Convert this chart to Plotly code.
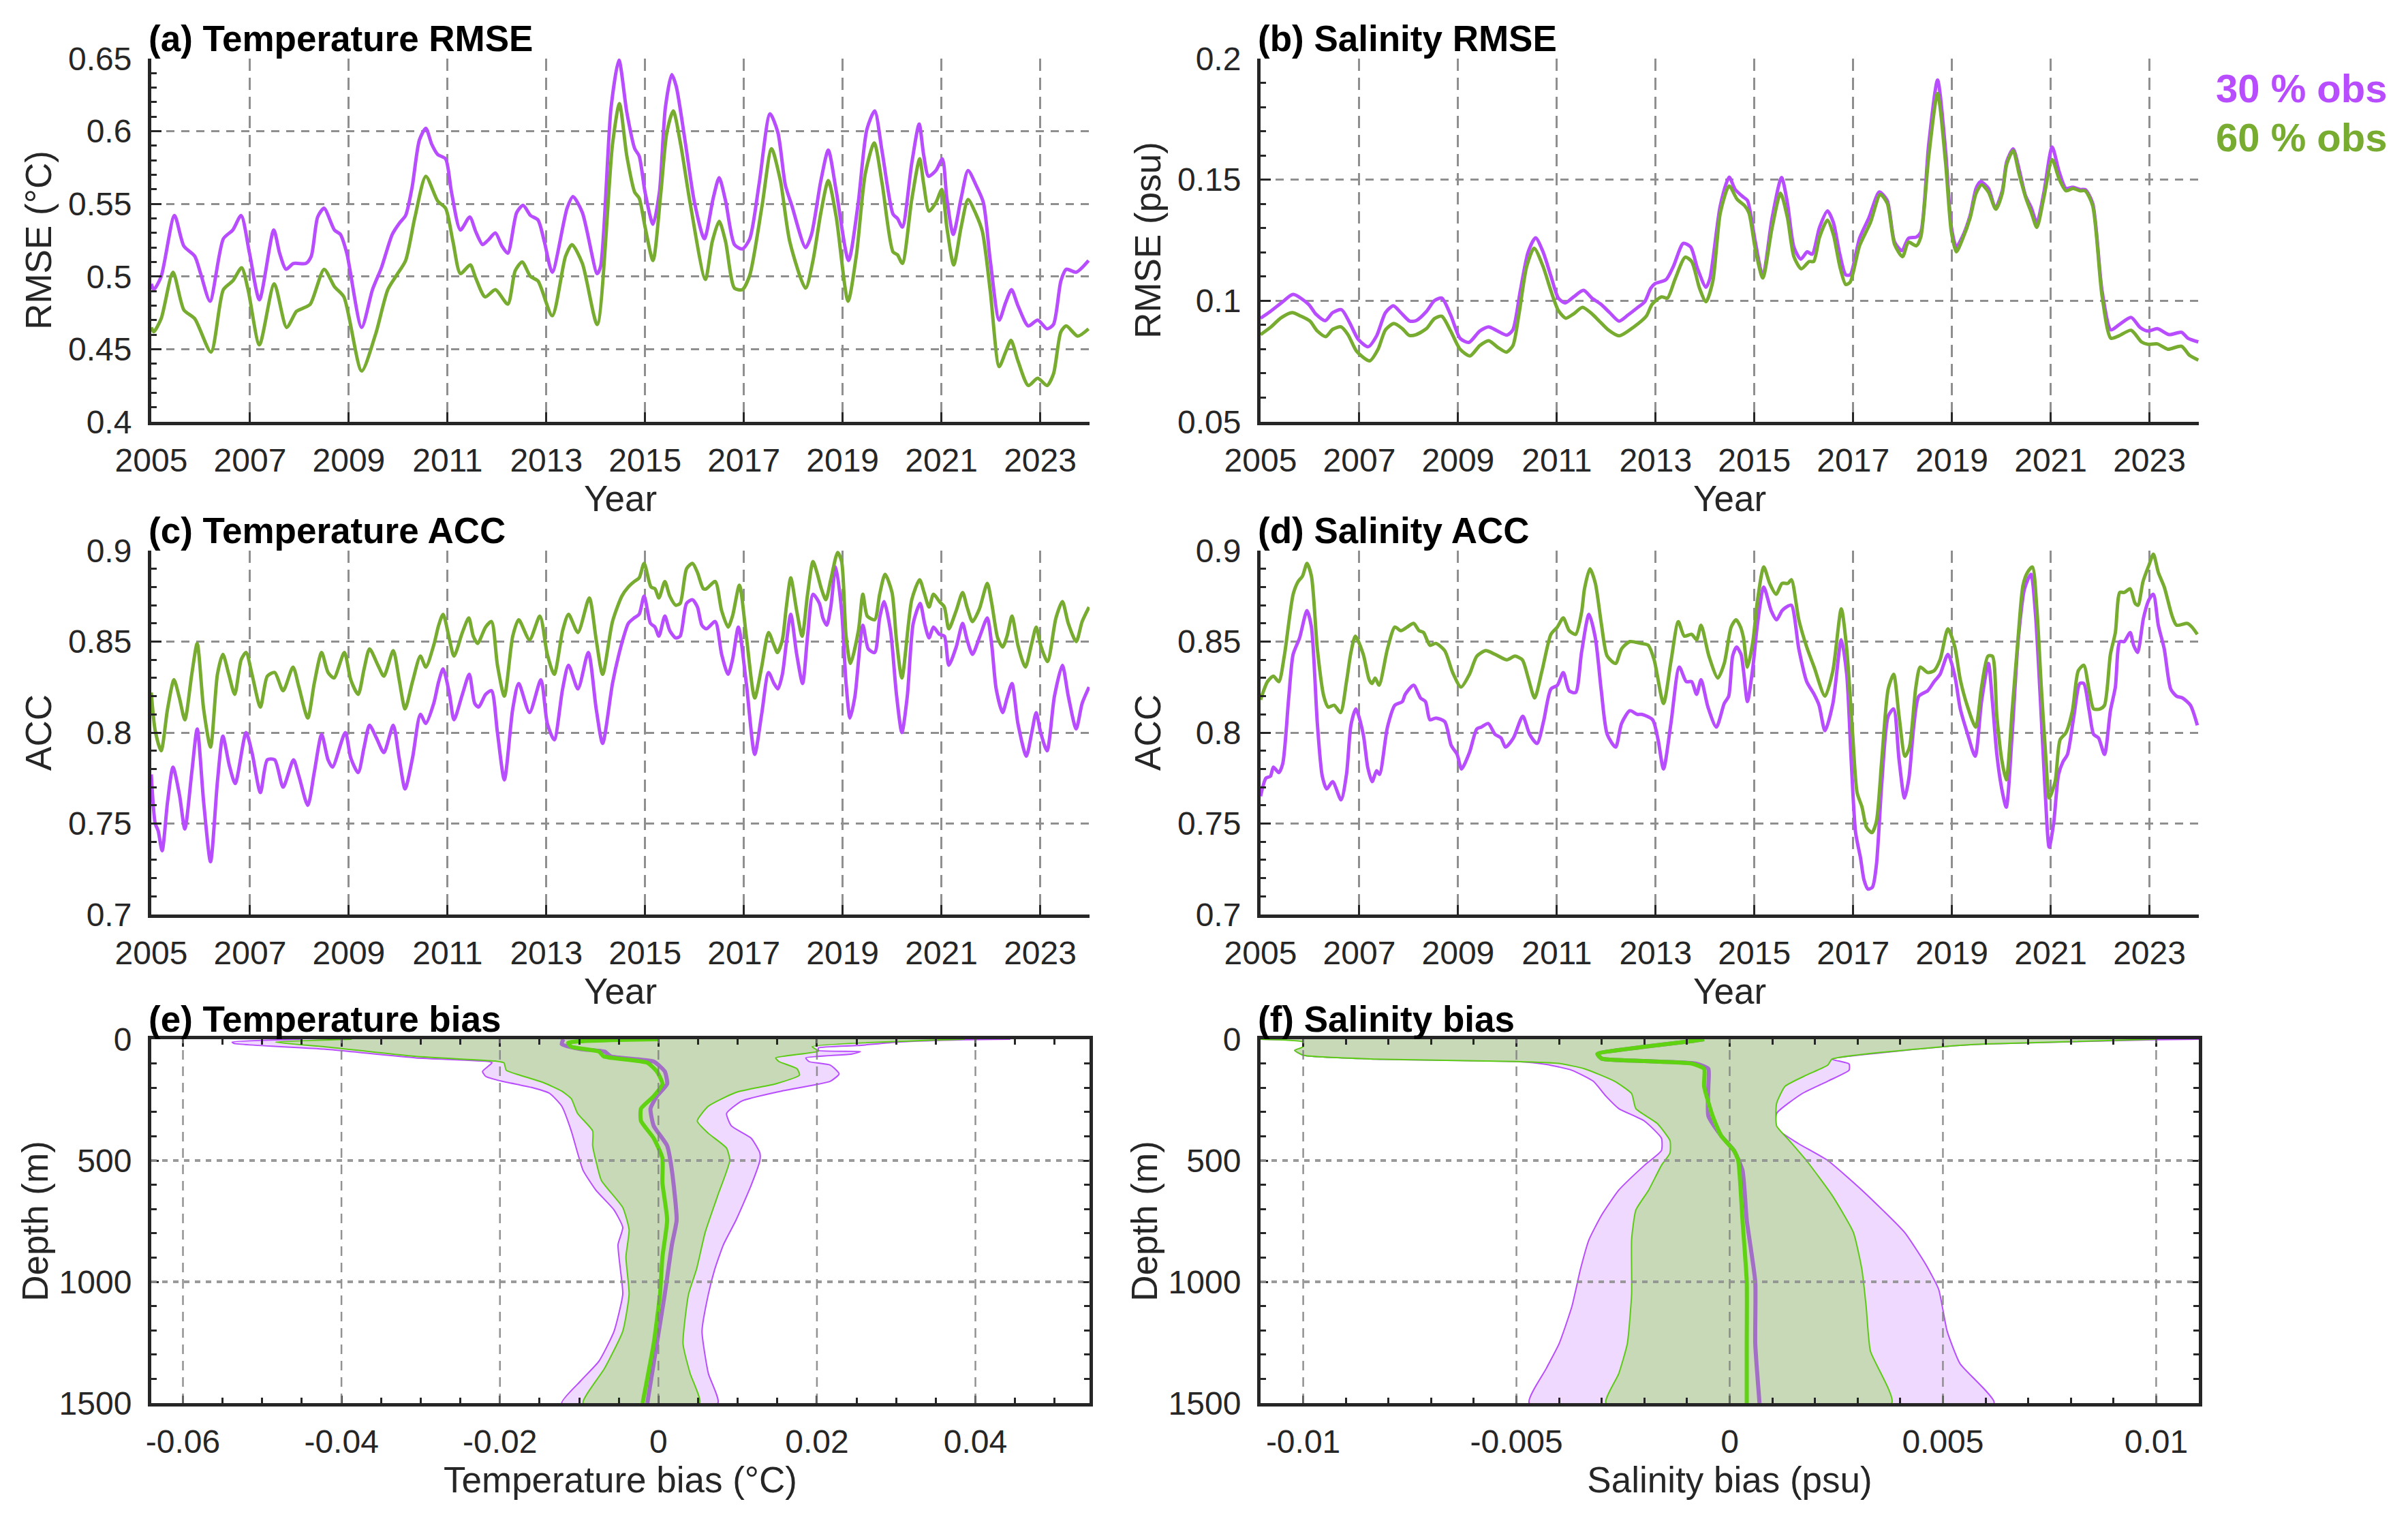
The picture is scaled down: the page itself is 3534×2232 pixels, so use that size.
import plotly.graph_objects as go

# ---- data ----
years = [2005, 2007, 2009, 2011, 2013, 2015, 2017, 2019, 2021, 2023]

# (a) temperature RMSE (degC): (decimal year, value)
trmse_30 = [(2005.0,0.495),(2005.05,0.491),(2005.2,0.5),(2005.47,0.542),(2005.66,0.521),(2005.88,0.514),(2006.0,0.502),(2006.19,0.483),(2006.46,0.526),(2006.65,0.532),(2006.82,0.542),(2006.99,0.516),(2007.19,0.484),(2007.48,0.532),(2007.6,0.516),(2007.73,0.505),(2007.88,0.509),(2008.13,0.509),(2008.24,0.514),(2008.37,0.541),(2008.5,0.547),(2008.71,0.532),(2008.83,0.529),(2008.96,0.516),(2009.26,0.465),(2009.48,0.491),(2009.66,0.506),(2009.88,0.529),(2010.03,0.537),(2010.15,0.542),(2010.28,0.561),(2010.43,0.594),(2010.56,0.602),(2010.68,0.591),(2010.8,0.584),(2010.96,0.581),(2011.08,0.558),(2011.26,0.532),(2011.45,0.541),(2011.57,0.531),(2011.71,0.522),(2011.82,0.525),(2011.97,0.53),(2012.1,0.521),(2012.22,0.516),(2012.4,0.544),(2012.53,0.549),(2012.68,0.542),(2012.83,0.539),(2012.96,0.524),(2013.12,0.503),(2013.42,0.547),(2013.54,0.555),(2013.73,0.544),(2014.03,0.502),(2014.1,0.507),(2014.31,0.616),(2014.47,0.649),(2014.63,0.613),(2014.79,0.588),(2014.88,0.583),(2015.0,0.558),(2015.16,0.536),(2015.29,0.558),(2015.41,0.616),(2015.54,0.639),(2015.63,0.631),(2015.82,0.591),(2016.0,0.551),(2016.2,0.526),(2016.38,0.554),(2016.5,0.568),(2016.63,0.552),(2016.81,0.522),(2016.97,0.519),(2017.12,0.526),(2017.31,0.564),(2017.53,0.612),(2017.69,0.599),(2017.84,0.563),(2017.97,0.549),(2018.25,0.52),(2018.37,0.529),(2018.56,0.566),(2018.71,0.587),(2018.87,0.559),(2019.12,0.511),(2019.31,0.549),(2019.49,0.601),(2019.65,0.614),(2019.8,0.586),(2020.02,0.543),(2020.11,0.54),(2020.21,0.534),(2020.4,0.578),(2020.55,0.605),(2020.64,0.584),(2020.74,0.569),(2020.89,0.573),(2021.02,0.581),(2021.11,0.554),(2021.24,0.529),(2021.4,0.554),(2021.54,0.573),(2021.7,0.563),(2021.85,0.551),(2021.99,0.511),(2022.17,0.47),(2022.3,0.482),(2022.42,0.491),(2022.55,0.48),(2022.76,0.466),(2022.95,0.47),(2023.14,0.464),(2023.27,0.467),(2023.42,0.497),(2023.53,0.505),(2023.73,0.503),(2023.98,0.511)]
trmse_60 = [(2005.0,0.465),(2005.05,0.462),(2005.2,0.471),(2005.44,0.503),(2005.66,0.477),(2005.88,0.471),(2006.21,0.448),(2006.46,0.491),(2006.65,0.497),(2006.83,0.506),(2006.96,0.491),(2007.19,0.453),(2007.49,0.495),(2007.74,0.465),(2007.94,0.476),(2008.06,0.478),(2008.22,0.481),(2008.5,0.505),(2008.71,0.493),(2008.9,0.486),(2009.26,0.435),(2009.54,0.46),(2009.79,0.491),(2009.97,0.501),(2010.15,0.511),(2010.34,0.541),(2010.56,0.569),(2010.8,0.552),(2010.96,0.547),(2011.11,0.524),(2011.26,0.502),(2011.46,0.508),(2011.57,0.499),(2011.76,0.486),(2011.97,0.491),(2012.22,0.481),(2012.37,0.504),(2012.51,0.51),(2012.68,0.5),(2012.83,0.497),(2013.12,0.473),(2013.39,0.514),(2013.52,0.522),(2013.73,0.509),(2014.03,0.467),(2014.34,0.591),(2014.48,0.619),(2014.63,0.583),(2014.79,0.558),(2014.88,0.554),(2015.0,0.534),(2015.16,0.511),(2015.32,0.558),(2015.44,0.599),(2015.57,0.614),(2015.72,0.591),(2015.91,0.551),(2016.22,0.498),(2016.36,0.524),(2016.5,0.538),(2016.63,0.524),(2016.81,0.492),(2016.97,0.491),(2017.12,0.501),(2017.37,0.549),(2017.56,0.588),(2017.74,0.566),(2017.93,0.524),(2018.25,0.492),(2018.4,0.511),(2018.56,0.544),(2018.71,0.566),(2018.87,0.541),(2019.11,0.483),(2019.28,0.515),(2019.46,0.571),(2019.64,0.592),(2019.8,0.564),(2020.02,0.517),(2020.11,0.515),(2020.21,0.509),(2020.4,0.553),(2020.56,0.581),(2020.64,0.564),(2020.75,0.545),(2020.89,0.551),(2021.01,0.56),(2021.11,0.534),(2021.25,0.508),(2021.4,0.534),(2021.54,0.553),(2021.7,0.543),(2021.83,0.531),(2021.99,0.49),(2022.17,0.438),(2022.3,0.448),(2022.41,0.456),(2022.55,0.442),(2022.76,0.425),(2022.95,0.43),(2023.14,0.425),(2023.27,0.433),(2023.42,0.462),(2023.53,0.466),(2023.76,0.459),(2023.98,0.464)]

# (b) salinity RMSE (psu)
srmse_30 = [(2005.0,0.0928),(2005.2,0.0956),(2005.45,0.0996),(2005.66,0.1026),(2005.97,0.0986),(2006.12,0.0945),(2006.31,0.0918),(2006.46,0.0951),(2006.64,0.0963),(2006.8,0.0911),(2006.98,0.084),(2007.18,0.081),(2007.35,0.0855),(2007.53,0.0951),(2007.69,0.0979),(2007.84,0.0951),(2008.02,0.0916),(2008.15,0.0918),(2008.36,0.0956),(2008.52,0.1),(2008.67,0.1011),(2008.85,0.0941),(2009.04,0.0845),(2009.22,0.0828),(2009.44,0.0875),(2009.62,0.0892),(2009.8,0.0875),(2009.99,0.0858),(2010.11,0.088),(2010.26,0.1041),(2010.42,0.1202),(2010.57,0.126),(2010.72,0.1202),(2010.88,0.1102),(2011.03,0.1011),(2011.17,0.0991),(2011.34,0.1016),(2011.54,0.1043),(2011.71,0.1011),(2011.89,0.0986),(2012.07,0.0951),(2012.26,0.0916),(2012.44,0.0941),(2012.63,0.0971),(2012.78,0.0996),(2012.9,0.1051),(2012.99,0.1071),(2013.21,0.1087),(2013.36,0.1142),(2013.56,0.1237),(2013.71,0.1222),(2013.85,0.1132),(2014.02,0.1056),(2014.1,0.1092),(2014.31,0.1393),(2014.49,0.151),(2014.61,0.146),(2014.77,0.1429),(2014.86,0.1414),(2015.02,0.1242),(2015.17,0.1102),(2015.36,0.1343),(2015.55,0.1509),(2015.67,0.1403),(2015.8,0.1222),(2015.94,0.1172),(2016.07,0.1202),(2016.17,0.1192),(2016.32,0.1303),(2016.48,0.1371),(2016.6,0.1323),(2016.73,0.1192),(2016.85,0.1107),(2016.94,0.1107),(2017.13,0.1258),(2017.32,0.1343),(2017.53,0.1449),(2017.69,0.1414),(2017.84,0.1242),(2017.99,0.1207),(2018.12,0.1258),(2018.28,0.1263),(2018.37,0.1283),(2018.53,0.1645),(2018.71,0.1911),(2018.87,0.1625),(2018.99,0.1303),(2019.09,0.1222),(2019.21,0.1263),(2019.37,0.1353),(2019.49,0.1464),(2019.58,0.1492),(2019.74,0.1464),(2019.88,0.1383),(2020.02,0.1454),(2020.11,0.1574),(2020.24,0.1627),(2020.36,0.1544),(2020.49,0.1434),(2020.61,0.1383),(2020.72,0.1323),(2020.86,0.1444),(2021.03,0.1635),(2021.17,0.1534),(2021.31,0.1464),(2021.45,0.1469),(2021.6,0.1459),(2021.7,0.1459),(2021.85,0.1403),(2022.04,0.1041),(2022.22,0.088),(2022.38,0.09),(2022.63,0.0931),(2022.81,0.089),(2022.97,0.0875),(2023.16,0.0885),(2023.4,0.086),(2023.65,0.087),(2023.78,0.0845),(2023.99,0.083)]
srmse_60 = [(2005.0,0.086),(2005.2,0.089),(2005.42,0.093),(2005.64,0.0951),(2005.82,0.0936),(2006.0,0.0916),(2006.15,0.0875),(2006.32,0.0852),(2006.46,0.0882),(2006.63,0.0892),(2006.77,0.086),(2006.95,0.079),(2007.21,0.0752),(2007.38,0.08),(2007.53,0.088),(2007.7,0.0906),(2007.87,0.0885),(2008.01,0.0857),(2008.15,0.086),(2008.36,0.0885),(2008.52,0.0926),(2008.67,0.0936),(2008.85,0.0875),(2009.04,0.08),(2009.24,0.0772),(2009.44,0.0815),(2009.62,0.0835),(2009.8,0.0808),(2009.98,0.0788),(2010.11,0.0815),(2010.23,0.0941),(2010.39,0.1142),(2010.54,0.1217),(2010.72,0.1142),(2010.88,0.1041),(2011.03,0.096),(2011.18,0.0928),(2011.34,0.0946),(2011.52,0.0973),(2011.71,0.0946),(2011.86,0.0916),(2012.04,0.088),(2012.26,0.0855),(2012.56,0.0892),(2012.81,0.0936),(2012.93,0.0986),(2013.12,0.1016),(2013.24,0.1011),(2013.39,0.1087),(2013.6,0.118),(2013.73,0.1162),(2013.89,0.1051),(2014.02,0.0996),(2014.16,0.1082),(2014.31,0.1363),(2014.49,0.1474),(2014.65,0.1419),(2014.8,0.1393),(2014.89,0.1363),(2015.02,0.1212),(2015.17,0.1094),(2015.36,0.1303),(2015.53,0.1444),(2015.67,0.1343),(2015.8,0.1182),(2015.95,0.1132),(2016.11,0.1162),(2016.2,0.1162),(2016.32,0.1263),(2016.48,0.1333),(2016.6,0.1273),(2016.73,0.1142),(2016.85,0.1067),(2016.94,0.1077),(2017.13,0.1227),(2017.35,0.1323),(2017.55,0.1439),(2017.69,0.1403),(2017.84,0.1232),(2018.0,0.1182),(2018.12,0.1242),(2018.28,0.1227),(2018.37,0.1263),(2018.53,0.1595),(2018.71,0.1856),(2018.87,0.1574),(2018.99,0.1283),(2019.09,0.1202),(2019.21,0.1252),(2019.37,0.1343),(2019.49,0.1444),(2019.6,0.1479),(2019.74,0.1449),(2019.89,0.1378),(2020.02,0.1444),(2020.11,0.1564),(2020.24,0.162),(2020.36,0.1524),(2020.49,0.1429),(2020.61,0.1363),(2020.72,0.1303),(2020.86,0.1424),(2021.03,0.1583),(2021.17,0.1504),(2021.31,0.1454),(2021.45,0.1464),(2021.6,0.1454),(2021.7,0.1454),(2021.85,0.1393),(2022.04,0.1021),(2022.22,0.0845),(2022.38,0.0855),(2022.63,0.0878),(2022.84,0.083),(2022.97,0.082),(2023.16,0.0822),(2023.37,0.08),(2023.65,0.0812),(2023.81,0.0775),(2023.99,0.0755)]

# (c) temperature ACC
tacc_30 = [(2005.0,0.777),(2005.08,0.75),(2005.14,0.746),(2005.22,0.735),(2005.33,0.762),(2005.44,0.781),(2005.57,0.766),(2005.68,0.747),(2005.82,0.778),(2005.93,0.802),(2006.06,0.762),(2006.2,0.729),(2006.34,0.773),(2006.45,0.798),(2006.58,0.782),(2006.7,0.772),(2006.92,0.8),(2007.04,0.789),(2007.21,0.767),(2007.35,0.785),(2007.5,0.785),(2007.67,0.77),(2007.88,0.785),(2007.99,0.776),(2008.17,0.76),(2008.3,0.778),(2008.45,0.799),(2008.58,0.785),(2008.67,0.781),(2008.93,0.8),(2009.04,0.786),(2009.19,0.778),(2009.31,0.792),(2009.42,0.804),(2009.56,0.797),(2009.71,0.789),(2009.9,0.804),(2010.02,0.786),(2010.14,0.769),(2010.29,0.786),(2010.45,0.81),(2010.56,0.805),(2010.72,0.816),(2010.82,0.828),(2010.91,0.835),(2011.04,0.821),(2011.13,0.807),(2011.3,0.821),(2011.44,0.832),(2011.55,0.816),(2011.63,0.814),(2011.77,0.821),(2011.89,0.823),(2012.01,0.8),(2012.15,0.774),(2012.32,0.813),(2012.44,0.827),(2012.66,0.811),(2012.89,0.829),(2013.02,0.805),(2013.16,0.796),(2013.33,0.824),(2013.45,0.837),(2013.64,0.824),(2013.85,0.844),(2014.01,0.813),(2014.14,0.794),(2014.34,0.827),(2014.47,0.843),(2014.57,0.853),(2014.66,0.86),(2014.78,0.863),(2014.88,0.865),(2014.98,0.875),(2015.11,0.86),(2015.2,0.858),(2015.28,0.853),(2015.4,0.864),(2015.5,0.856),(2015.62,0.852),(2015.71,0.853),(2015.84,0.871),(2015.96,0.873),(2016.06,0.869),(2016.15,0.859),(2016.24,0.857),(2016.42,0.861),(2016.55,0.843),(2016.68,0.832),(2016.77,0.84),(2016.89,0.858),(2017.05,0.827),(2017.22,0.788),(2017.36,0.81),(2017.5,0.833),(2017.61,0.827),(2017.69,0.824),(2017.78,0.832),(2017.86,0.849),(2017.95,0.865),(2018.07,0.843),(2018.19,0.827),(2018.29,0.853),(2018.4,0.876),(2018.53,0.871),(2018.6,0.863),(2018.68,0.859),(2018.76,0.869),(2018.86,0.891),(2018.98,0.867),(2019.07,0.827),(2019.15,0.808),(2019.25,0.82),(2019.41,0.859),(2019.52,0.846),(2019.65,0.844),(2019.75,0.863),(2019.84,0.872),(2019.97,0.856),(2020.09,0.821),(2020.2,0.8),(2020.31,0.82),(2020.43,0.86),(2020.57,0.871),(2020.66,0.86),(2020.75,0.852),(2020.84,0.858),(2020.96,0.854),(2021.06,0.853),(2021.15,0.837),(2021.3,0.847),(2021.43,0.86),(2021.52,0.851),(2021.63,0.843),(2021.78,0.853),(2021.93,0.863),(2022.02,0.848),(2022.11,0.824),(2022.24,0.811),(2022.33,0.819),(2022.43,0.827),(2022.55,0.805),(2022.72,0.787),(2022.83,0.8),(2022.92,0.811),(2023.01,0.8),(2023.14,0.79),(2023.29,0.82),(2023.45,0.837),(2023.57,0.82),(2023.73,0.802),(2023.85,0.816),(2023.99,0.825)]
tacc_60 = [(2005.0,0.822),(2005.08,0.801),(2005.2,0.79),(2005.33,0.813),(2005.46,0.829),(2005.57,0.819),(2005.68,0.807),(2005.82,0.832),(2005.93,0.849),(2006.06,0.813),(2006.2,0.792),(2006.34,0.832),(2006.45,0.843),(2006.57,0.832),(2006.69,0.821),(2006.82,0.84),(2006.92,0.844),(2007.04,0.832),(2007.21,0.814),(2007.35,0.831),(2007.5,0.833),(2007.67,0.823),(2007.87,0.836),(2007.99,0.825),(2008.17,0.808),(2008.3,0.827),(2008.45,0.844),(2008.58,0.833),(2008.7,0.83),(2008.91,0.844),(2009.04,0.829),(2009.19,0.821),(2009.31,0.835),(2009.42,0.846),(2009.59,0.837),(2009.71,0.831),(2009.9,0.845),(2010.02,0.829),(2010.14,0.813),(2010.29,0.828),(2010.45,0.842),(2010.56,0.836),(2010.72,0.848),(2010.82,0.859),(2010.91,0.865),(2011.04,0.851),(2011.13,0.842),(2011.3,0.855),(2011.43,0.863),(2011.52,0.853),(2011.61,0.849),(2011.77,0.858),(2011.89,0.861),(2012.01,0.837),(2012.15,0.82),(2012.32,0.853),(2012.44,0.862),(2012.66,0.851),(2012.87,0.864),(2013.02,0.843),(2013.16,0.832),(2013.33,0.856),(2013.45,0.865),(2013.64,0.855),(2013.87,0.874),(2014.01,0.851),(2014.14,0.832),(2014.34,0.861),(2014.53,0.875),(2014.66,0.88),(2014.78,0.883),(2014.88,0.885),(2014.98,0.893),(2015.12,0.88),(2015.2,0.879),(2015.28,0.874),(2015.4,0.883),(2015.5,0.875),(2015.62,0.87),(2015.71,0.871),(2015.84,0.89),(2015.96,0.893),(2016.06,0.888),(2016.18,0.879),(2016.24,0.879),(2016.42,0.883),(2016.55,0.867),(2016.68,0.858),(2016.77,0.864),(2016.91,0.881),(2017.05,0.853),(2017.22,0.819),(2017.36,0.836),(2017.5,0.855),(2017.61,0.848),(2017.68,0.844),(2017.78,0.851),(2017.86,0.869),(2017.95,0.885),(2018.07,0.867),(2018.18,0.853),(2018.29,0.876),(2018.4,0.894),(2018.48,0.888),(2018.57,0.879),(2018.66,0.873),(2018.76,0.884),(2018.9,0.899),(2018.98,0.894),(2019.07,0.853),(2019.16,0.838),(2019.32,0.856),(2019.41,0.876),(2019.5,0.864),(2019.65,0.862),(2019.75,0.876),(2019.86,0.887),(2020.0,0.877),(2020.09,0.851),(2020.2,0.83),(2020.4,0.873),(2020.56,0.884),(2020.65,0.877),(2020.75,0.869),(2020.84,0.876),(2020.96,0.872),(2021.06,0.869),(2021.15,0.857),(2021.3,0.867),(2021.43,0.877),(2021.52,0.869),(2021.63,0.861),(2021.77,0.868),(2021.93,0.882),(2022.02,0.871),(2022.14,0.852),(2022.24,0.847),(2022.33,0.853),(2022.43,0.864),(2022.55,0.848),(2022.7,0.836),(2022.83,0.849),(2022.92,0.858),(2023.01,0.848),(2023.15,0.839),(2023.32,0.863),(2023.45,0.872),(2023.57,0.86),(2023.73,0.85),(2023.85,0.861),(2023.99,0.869)]

# (d) salinity ACC
sacc_30 = [(2005.0,0.765),(2005.11,0.775),(2005.2,0.776),(2005.26,0.781),(2005.37,0.778),(2005.45,0.783),(2005.57,0.819),(2005.66,0.843),(2005.79,0.852),(2005.94,0.867),(2006.03,0.858),(2006.15,0.805),(2006.25,0.776),(2006.34,0.769),(2006.46,0.773),(2006.63,0.763),(2006.74,0.777),(2006.83,0.804),(2006.93,0.813),(2007.08,0.799),(2007.17,0.781),(2007.26,0.773),(2007.35,0.779),(2007.41,0.777),(2007.57,0.803),(2007.72,0.815),(2007.87,0.817),(2007.93,0.821),(2008.1,0.826),(2008.24,0.819),(2008.34,0.817),(2008.43,0.807),(2008.55,0.808),(2008.73,0.806),(2008.86,0.793),(2008.98,0.788),(2009.07,0.78),(2009.23,0.789),(2009.38,0.802),(2009.47,0.803),(2009.61,0.805),(2009.75,0.799),(2009.87,0.797),(2009.96,0.792),(2010.12,0.797),(2010.31,0.809),(2010.45,0.799),(2010.6,0.794),(2010.73,0.806),(2010.88,0.824),(2011.01,0.826),(2011.13,0.833),(2011.25,0.823),(2011.38,0.822),(2011.5,0.844),(2011.65,0.865),(2011.78,0.852),(2011.9,0.823),(2012.02,0.799),(2012.19,0.792),(2012.31,0.805),(2012.48,0.812),(2012.63,0.81),(2012.72,0.81),(2012.94,0.807),(2013.05,0.796),(2013.16,0.78),(2013.31,0.805),(2013.48,0.836),(2013.62,0.828),(2013.73,0.828),(2013.83,0.821),(2013.92,0.829),(2014.06,0.814),(2014.23,0.803),(2014.39,0.816),(2014.48,0.82),(2014.56,0.842),(2014.64,0.847),(2014.73,0.843),(2014.78,0.834),(2014.86,0.817),(2014.97,0.836),(2015.06,0.859),(2015.19,0.88),(2015.34,0.867),(2015.45,0.862),(2015.56,0.867),(2015.65,0.869),(2015.75,0.87),(2015.9,0.846),(2016.06,0.828),(2016.21,0.821),(2016.31,0.815),(2016.43,0.801),(2016.59,0.816),(2016.76,0.851),(2016.87,0.832),(2016.96,0.785),(2017.05,0.745),(2017.15,0.731),(2017.22,0.719),(2017.3,0.714),(2017.39,0.715),(2017.47,0.727),(2017.58,0.772),(2017.71,0.809),(2017.82,0.813),(2017.93,0.785),(2018.04,0.764),(2018.13,0.775),(2018.23,0.804),(2018.33,0.82),(2018.51,0.823),(2018.64,0.828),(2018.76,0.832),(2018.92,0.843),(2019.06,0.831),(2019.17,0.813),(2019.32,0.799),(2019.47,0.787),(2019.6,0.817),(2019.74,0.838),(2019.82,0.817),(2019.91,0.788),(2020.01,0.769),(2020.1,0.759),(2020.22,0.799),(2020.34,0.85),(2020.47,0.879),(2020.6,0.887),(2020.69,0.866),(2020.79,0.819),(2020.88,0.772),(2020.97,0.737),(2021.06,0.75),(2021.16,0.777),(2021.25,0.784),(2021.34,0.788),(2021.47,0.809),(2021.59,0.827),(2021.67,0.827),(2021.78,0.812),(2021.87,0.799),(2021.97,0.797),(2022.09,0.788),(2022.21,0.812),(2022.31,0.825),(2022.4,0.85),(2022.49,0.85),(2022.61,0.855),(2022.68,0.848),(2022.76,0.844),(2022.88,0.863),(2022.99,0.873),(2023.08,0.876),(2023.18,0.859),(2023.3,0.846),(2023.43,0.824),(2023.55,0.82),(2023.67,0.819),(2023.83,0.815),(2023.97,0.804)]
sacc_60 = [(2005.0,0.818),(2005.14,0.828),(2005.26,0.831),(2005.37,0.828),(2005.48,0.842),(2005.66,0.876),(2005.76,0.883),(2005.85,0.886),(2005.94,0.893),(2006.03,0.886),(2006.15,0.846),(2006.28,0.82),(2006.37,0.814),(2006.49,0.815),(2006.62,0.811),(2006.74,0.828),(2006.83,0.844),(2006.92,0.853),(2007.08,0.843),(2007.2,0.829),(2007.26,0.827),(2007.32,0.83),(2007.4,0.826),(2007.57,0.846),(2007.72,0.858),(2007.84,0.856),(2007.97,0.858),(2008.1,0.86),(2008.21,0.856),(2008.3,0.855),(2008.43,0.848),(2008.55,0.849),(2008.73,0.845),(2008.89,0.833),(2009.06,0.825),(2009.23,0.832),(2009.38,0.842),(2009.56,0.845),(2009.75,0.843),(2009.99,0.84),(2010.15,0.842),(2010.3,0.84),(2010.42,0.83),(2010.55,0.819),(2010.7,0.834),(2010.88,0.854),(2011.01,0.858),(2011.13,0.863),(2011.25,0.856),(2011.38,0.854),(2011.5,0.866),(2011.56,0.879),(2011.67,0.89),(2011.78,0.882),(2011.9,0.86),(2012.02,0.842),(2012.19,0.838),(2012.31,0.846),(2012.48,0.85),(2012.7,0.849),(2012.85,0.848),(2012.97,0.84),(2013.16,0.816),(2013.31,0.839),(2013.46,0.861),(2013.58,0.853),(2013.73,0.854),(2013.83,0.851),(2013.92,0.859),(2014.08,0.842),(2014.26,0.83),(2014.39,0.838),(2014.53,0.858),(2014.63,0.862),(2014.72,0.858),(2014.78,0.852),(2014.86,0.836),(2014.97,0.85),(2015.06,0.872),(2015.19,0.891),(2015.31,0.882),(2015.44,0.876),(2015.56,0.882),(2015.68,0.882),(2015.75,0.884),(2015.9,0.862),(2016.06,0.847),(2016.21,0.836),(2016.43,0.82),(2016.59,0.834),(2016.76,0.868),(2016.87,0.846),(2016.99,0.799),(2017.08,0.767),(2017.18,0.759),(2017.27,0.748),(2017.38,0.745),(2017.47,0.751),(2017.58,0.785),(2017.71,0.824),(2017.82,0.832),(2017.93,0.809),(2018.05,0.787),(2018.14,0.792),(2018.27,0.825),(2018.36,0.836),(2018.51,0.833),(2018.64,0.834),(2018.76,0.84),(2018.92,0.857),(2019.06,0.847),(2019.17,0.829),(2019.32,0.814),(2019.48,0.803),(2019.6,0.825),(2019.73,0.842),(2019.82,0.842),(2019.91,0.809),(2020.01,0.785),(2020.1,0.774),(2020.22,0.812),(2020.34,0.852),(2020.44,0.881),(2020.53,0.888),(2020.63,0.891),(2020.72,0.868),(2020.81,0.825),(2020.91,0.783),(2020.97,0.764),(2021.09,0.773),(2021.19,0.796),(2021.31,0.8),(2021.44,0.812),(2021.56,0.834),(2021.67,0.837),(2021.78,0.823),(2021.87,0.813),(2022.0,0.813),(2022.09,0.815),(2022.21,0.843),(2022.31,0.855),(2022.4,0.877),(2022.49,0.877),(2022.61,0.879),(2022.71,0.871),(2022.77,0.87),(2022.87,0.883),(2022.99,0.892),(2023.08,0.898),(2023.18,0.888),(2023.3,0.88),(2023.46,0.864),(2023.55,0.859),(2023.77,0.86),(2023.86,0.858),(2023.97,0.854)]

# (e) temperature bias profiles: (depth m, value degC)
tbias_30_lo = [(0,-0.0452),(12,-0.0538),(18,-0.0535),(41,-0.0422),(77,-0.0306),(92,-0.0214),(97,-0.021),(133,-0.0222),(153,-0.0218),(173,-0.0198),(199,-0.016),(224,-0.0137),(276,-0.0122),(378,-0.011),(469,-0.0102),(541,-0.0095),(622,-0.0079),(704,-0.0056),(776,-0.0045),(847,-0.0051),(949,-0.0048),(1051,-0.0045),(1204,-0.0056),(1327,-0.0075),(1408,-0.0098),(1500,-0.0122)]
tbias_30_hi = [(0,0.0444),(2,0.0386),(12,0.0302),(26,0.0252),(36,0.0202),(46,0.0202),(51,0.0255),(61,0.0244),(77,0.0186),(92,0.019),(107,0.0217),(143,0.0228),(173,0.0217),(214,0.0155),(255,0.0105),(306,0.0086),(357,0.0092),(408,0.0117),(469,0.0128),(500,0.0128),(602,0.0117),(745,0.0098),(847,0.0082),(949,0.0071),(1051,0.0063),(1204,0.0055),(1378,0.0063),(1500,0.0075)]
tbias_60_lo = [(0,-0.0387),(12,-0.0483),(31,-0.0422),(71,-0.0306),(90,-0.0206),(97,-0.0195),(128,-0.0192),(148,-0.0175),(179,-0.0145),(214,-0.0122),(245,-0.011),(306,-0.0102),(378,-0.0083),(439,-0.0083),(500,-0.0079),(582,-0.0072),(694,-0.0045),(786,-0.0037),(898,-0.0041),(1051,-0.0037),(1204,-0.0045),(1357,-0.0068),(1500,-0.0095)]
tbias_60_hi = [(0,0.0386),(31,0.0194),(49,0.0202),(77,0.0148),(92,0.0152),(122,0.0175),(148,0.0178),(184,0.0148),(219,0.0098),(276,0.0063),(337,0.0049),(388,0.0063),(449,0.0086),(500,0.009),(643,0.0075),(796,0.0059),(949,0.0048),(1051,0.0038),(1255,0.0031),(1378,0.004),(1500,0.0052)]
tbias_30_mean = [(0,-0.012),(20,-0.0122),(41,-0.0098),(51,-0.0068),(71,-0.006),(92,-0.0006),(133,0.0008),(184,0.0011),(235,-0.0002),(286,-0.001),(357,-0.0006),(439,0.0011),(541,0.0017),(745,0.0023),(847,0.0017),(1051,0.0008),(1255,-0.0002),(1500,-0.0014)]
tbias_60_mean = [(0,0.0),(15,-0.0114),(31,-0.011),(51,-0.0075),(71,-0.0069),(97,-0.0014),(133,-0.0002),(184,0.0005),(235,-0.0006),(286,-0.0022),(337,-0.0022),(408,-0.0006),(490,0.0005),(592,0.0005),(745,0.0011),(898,0.0005),(1051,0.0002),(1255,-0.0006),(1500,-0.002)]

# (f) salinity bias profiles: (depth m, value psu)
sbias_30_lo = [(0,-0.011),(12,-0.0096),(31,-0.0099),(46,-0.0102),(66,-0.01),(82,-0.0083),(92,-0.005),(104,-0.0043),(128,-0.0037),(173,-0.0032),(235,-0.0029),(286,-0.0026),(337,-0.002),(408,-0.0016),(459,-0.0016),(520,-0.002),(622,-0.0026),(724,-0.003),(827,-0.0033),(949,-0.0035),(1102,-0.0037),(1255,-0.004),(1357,-0.0043),(1500,-0.0047)]
sbias_30_hi = [(0,0.011),(2,0.01),(20,0.006),(31,0.005),(82,0.0024),(102,0.0028),(128,0.0028),(173,0.0023),(224,0.0017),(306,0.0011),(367,0.0011),(429,0.0016),(500,0.0023),(622,0.0031),(796,0.0041),(929,0.0046),(1031,0.0049),(1204,0.0051),(1337,0.0054),(1500,0.0062)]
sbias_60_lo = [(0,-0.011),(12,-0.01),(31,-0.01),(46,-0.0102),(66,-0.01),(82,-0.0083),(92,-0.005),(100,-0.004),(122,-0.0034),(173,-0.0027),(224,-0.0023),(286,-0.0022),(347,-0.0017),(418,-0.0014),(469,-0.0014),(520,-0.0016),(622,-0.0019),(704,-0.0022),(827,-0.0023),(1051,-0.0023),(1255,-0.0024),(1378,-0.0026),(1500,-0.0029)]
sbias_60_hi = [(0,0.01),(20,0.006),(31,0.005),(82,0.0024),(107,0.0023),(148,0.0018),(194,0.0013),(265,0.0011),(357,0.0011),(418,0.0014),(500,0.0018),(643,0.0024),(796,0.0029),(949,0.0031),(1102,0.0032),(1286,0.0033),(1500,0.0038)]
sbias_30_mean = [(0,-0.0006),(8,-0.0009),(31,-0.002),(61,-0.0031),(80,-0.003),(90,-0.002),(100,-0.0008),(122,-0.0005),(194,-0.0005),(316,-0.0005),(398,-0.0002),(459,0.0001),(540,0.0003),(745,0.0004),(1000,0.0006),(1255,0.0006),(1500,0.0007)]
sbias_60_mean = [(0,-0.0006),(8,-0.0009),(31,-0.002),(61,-0.0031),(80,-0.003),(90,-0.002),(100,-0.0009),(122,-0.0006),(194,-0.0006),(316,-0.0004),(398,-0.0002),(459,0.0001),(500,0.0002),(745,0.0003),(1000,0.0004),(1255,0.0004),(1500,0.0004)]

tbias_ticks = [-0.06, -0.04, -0.02, 0, 0.02, 0.04]
tbias_text = ["-0.06", "-0.04", "-0.02", "0", "0.02", "0.04"]
sbias_ticks = [-0.01, -0.005, 0, 0.005, 0.01]
sbias_text = ["-0.01", "-0.005", "0", "0.005", "0.01"]
depth_ticks = [0, 500, 1000, 1500]

# ---- styling ----
PURPLE = "#B84DFF"
GREEN = "#77AC30"
AXC = "#262626"
GRID = "#8f8f8f"
FONT = "Liberation Sans, Arial, sans-serif"

W, H = 3534, 2232
OFF = 8  # the page body adds an 8 px margin
COLS = [(222 - OFF, 1599 - OFF), (1850 - OFF, 3227 - OFF)]
ROWS = [(86 - OFF, 619 - OFF), (808 - OFF, 1342 - OFF), (1525 - OFF, 2059 - OFF)]


def xdom(c):
    l, r = COLS[c]
    return [l / W, r / W]


def ydom(r):
    t, b = ROWS[r]
    return [1 - b / H, 1 - t / H]


fig = go.Figure()


def sfx(n):
    return "" if n == 1 else str(n)


def add_series(n, pts, color):
    xs, ys = zip(*pts)
    fig.add_trace(go.Scatter(x=xs, y=ys, xaxis="x" + sfx(n), yaxis="y" + sfx(n), mode="lines",
                             line=dict(color=color, width=5, shape="spline", smoothing=0.7),
                             showlegend=False, hoverinfo="skip"))


def add_band(n, lo, hi, fill, edge):
    ld, lv = zip(*lo)
    hd, hv = zip(*hi)
    fig.add_trace(go.Scatter(x=list(lv) + list(hv)[::-1], y=list(ld) + list(hd)[::-1],
                             xaxis="x" + sfx(n), yaxis="y" + sfx(n), mode="lines", fill="toself",
                             fillcolor=fill, line=dict(color=edge, width=2, shape="spline", smoothing=0.5),
                             showlegend=False, hoverinfo="skip"))


def add_profile(n, pts, color, width):
    d, v = zip(*pts)
    fig.add_trace(go.Scatter(x=v, y=d, xaxis="x" + sfx(n), yaxis="y" + sfx(n), mode="lines",
                             line=dict(color=color, width=width, shape="spline", smoothing=0.5),
                             showlegend=False, hoverinfo="skip"))


tick_font = dict(family=FONT, size=48, color=AXC)
title_font = dict(family=FONT, size=53, color=AXC)


def time_axes(n, col, row, yr, ytv, ytt, ytitle):
    k = sfx(n)
    fig.update_layout({
        "xaxis" + k: dict(domain=xdom(col), anchor="y" + k, range=[2005, 2024], automargin=False,
                          tickmode="array", tickvals=years, ticktext=[str(v) for v in years],
                          ticks="inside", ticklen=14, tickwidth=3, tickcolor=AXC,
                          showline=True, linecolor=AXC, linewidth=5, zeroline=False,
                          showgrid=True, gridcolor=GRID, gridwidth=3, griddash="18px,10px",
                          tickfont=tick_font, ticklabelstandoff=10,
                          title=dict(text="Year", font=title_font, standoff=6)),
        "yaxis" + k: dict(domain=ydom(row), anchor="x" + k, range=yr, automargin=False,
                          tickmode="array", tickvals=ytv, ticktext=ytt,
                          ticks="inside", ticklen=15, tickwidth=3, tickcolor=AXC,
                          minor=dict(tickmode="linear", tick0=0, dtick=0.01, ticks="inside",
                                     ticklen=8, tickwidth=3, tickcolor=AXC, showgrid=False),
                          showline=True, linecolor=AXC, linewidth=5, zeroline=False,
                          showgrid=True, gridcolor=GRID, gridwidth=3, griddash="12px,10px",
                          tickfont=tick_font, ticklabelstandoff=14,
                          title=dict(text=ytitle, font=title_font, standoff=9)),
    })


def depth_axes(n, col, xr, xtv, xtt, xminor, xtitle):
    k = sfx(n)
    fig.update_layout({
        "xaxis" + k: dict(domain=xdom(col), anchor="y" + k, range=xr, automargin=False,
                          tickmode="array", tickvals=xtv, ticktext=xtt,
                          ticks="inside", ticklen=11, tickwidth=3, tickcolor=AXC,
                          minor=dict(tickmode="linear", tick0=0, dtick=xminor, ticks="inside",
                                     ticklen=8, tickwidth=3, tickcolor=AXC, showgrid=False),
                          showline=True, mirror="ticks", linecolor=AXC, linewidth=5, zeroline=False,
                          showgrid=False, layer="above traces",
                          tickfont=tick_font, ticklabelstandoff=10,
                          title=dict(text=xtitle, font=title_font, standoff=6)),
        "yaxis" + k: dict(domain=ydom(2), anchor="x" + k, range=[1500, 0], automargin=False,
                          tickmode="array", tickvals=depth_ticks, ticktext=[str(v) for v in depth_ticks],
                          ticks="inside", ticklen=11, tickwidth=3, tickcolor=AXC,
                          minor=dict(tickmode="linear", tick0=0, dtick=100, ticks="inside",
                                     ticklen=8, tickwidth=3, tickcolor=AXC, showgrid=False),
                          showline=True, mirror="ticks", linecolor=AXC, linewidth=5, zeroline=False,
                          showgrid=False, layer="above traces",
                          tickfont=tick_font, ticklabelstandoff=14,
                          title=dict(text="Depth (m)", font=title_font, standoff=1)),
    })
    for xv in xtv:
        fig.add_shape(type="line", xref="x" + k, yref="y" + k + " domain", x0=xv, x1=xv, y0=0, y1=1,
                      line=dict(color="#808080", width=2.5, dash="14px,10px"), opacity=0.85, layer="above")
    for dv in depth_ticks[1:-1]:
        fig.add_shape(type="line", xref="x" + k + " domain", yref="y" + k, x0=0, x1=1, y0=dv, y1=dv,
                      line=dict(color="#909090", width=4, dash="8px,8px"), opacity=0.9, layer="above")


# time series panels
add_series(1, trmse_30, PURPLE)
add_series(1, trmse_60, GREEN)
add_series(2, srmse_30, PURPLE)
add_series(2, srmse_60, GREEN)
add_series(3, tacc_30, PURPLE)
add_series(3, tacc_60, GREEN)
add_series(4, sacc_30, PURPLE)
add_series(4, sacc_60, GREEN)

time_axes(1, 0, 0, [0.4, 0.65], [0.4, 0.45, 0.5, 0.55, 0.6, 0.65],
          ["0.4", "0.45", "0.5", "0.55", "0.6", "0.65"], "RMSE (°C)")
time_axes(2, 1, 0, [0.05, 0.2], [0.05, 0.1, 0.15, 0.2], ["0.05", "0.1", "0.15", "0.2"], "RMSE (psu)")
acc_tv = [0.7, 0.75, 0.8, 0.85, 0.9]
acc_tt = ["0.7", "0.75", "0.8", "0.85", "0.9"]
time_axes(3, 0, 1, [0.7, 0.9], acc_tv, acc_tt, "ACC")
time_axes(4, 1, 1, [0.7, 0.9], acc_tv, acc_tt, "ACC")

# bias profile panels
add_band(5, tbias_30_lo, tbias_30_hi, "#EFD9FF", PURPLE)
add_band(5, tbias_60_lo, tbias_60_hi, "#C8D9B8", "#5CCB14")
add_profile(5, tbias_30_mean, "#A36EC6", 6)
add_profile(5, tbias_60_mean, "#5FD212", 6)
add_band(6, sbias_30_lo, sbias_30_hi, "#EFD9FF", PURPLE)
add_band(6, sbias_60_lo, sbias_60_hi, "#C8D9B8", "#5CCB14")
add_profile(6, sbias_30_mean, "#A36EC6", 6)
add_profile(6, sbias_60_mean, "#5FD212", 6)

depth_axes(5, 0, [-0.064, 0.0544], tbias_ticks, tbias_text, 0.005, "Temperature bias (°C)")
depth_axes(6, 1, [-0.011, 0.011], sbias_ticks, sbias_text, 0.001, "Salinity bias (psu)")

# panel labels
labels = ["(a) Temperature RMSE", "(b) Salinity RMSE", "(c) Temperature ACC",
          "(d) Salinity ACC", "(e) Temperature bias", "(f) Salinity bias"]
for i, txt in enumerate(labels):
    col, row = i % 2, i // 2
    fig.add_annotation(text="<b>" + txt + "</b>", xref="paper", yref="paper",
                       x=xdom(col)[0], y=ydom(row)[1], xanchor="left", yanchor="bottom",
                       xshift=-6, yshift=-2, showarrow=False,
                       font=dict(family=FONT, size=53, color="#000000"))

# legend text
fig.add_annotation(text="<b>30 % obs</b>", xref="paper", yref="paper", x=(3250 - OFF) / W,
                   y=1 - (130 - OFF) / H, xanchor="left", yanchor="middle", showarrow=False,
                   font=dict(family=FONT, size=58, color=PURPLE))
fig.add_annotation(text="<b>60 % obs</b>", xref="paper", yref="paper", x=(3250 - OFF) / W,
                   y=1 - (202 - OFF) / H, xanchor="left", yanchor="middle", showarrow=False,
                   font=dict(family=FONT, size=58, color=GREEN))

fig.update_layout(width=W, height=H, margin=dict(l=0, r=0, t=0, b=0),
                  paper_bgcolor="white", plot_bgcolor="white", showlegend=False,
                  font=dict(family=FONT, color=AXC))

fig.write_html("out.html")
